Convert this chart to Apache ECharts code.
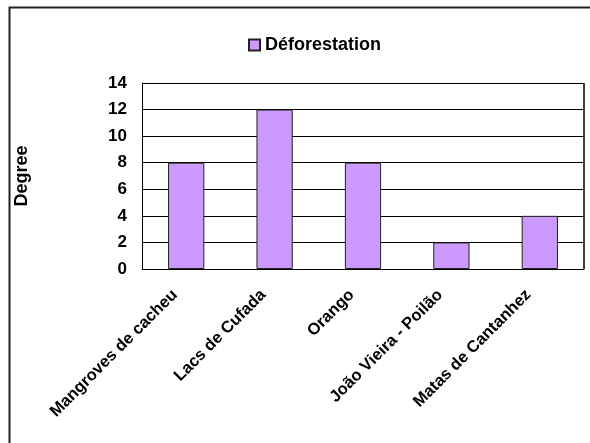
<!DOCTYPE html>
<html><head><meta charset="utf-8">
<script src="https://cdn.jsdelivr.net/npm/echarts@6/dist/echarts.min.js"></script>
<style>html,body{margin:0;padding:0;background:#fff}#c{width:590px;height:443px}</style>
</head><body><div id="c"></div>
<script>
const categories = ["Mangroves de cacheu", "Lacs de Cufada", "Orango", "João Vieira - Poilão", "Matas de Cantanhez"];
const deforestation = [8, 12, 8, 2, 4];
const seriesName = "Déforestation";
const yTitle = "Degree";

const chart = echarts.init(document.getElementById('c'));
const font = 'Liberation Sans, Arial, sans-serif';
chart.setOption({
  animation: false,
  graphic: [{
    type: 'rect', left: 7, top: 5, shape: {width: 600, height: 460},
    style: {fill: 'none', stroke: '#222', lineWidth: 2}, silent: true
  }],
  legend: {
    data: [seriesName], left: 243, top: 31, icon: 'rect', itemWidth: 11, itemHeight: 11, itemGap: 4,
    textStyle: {fontFamily: font, fontWeight: 'bold', fontSize: 18, color: '#000'}
  },
  grid: {left: 142, top: 83, right: 6, bottom: 174, containLabel: false, outerBoundsMode: 'none'},
  xAxis: {
    type: 'category', data: categories,
    axisLine: {lineStyle: {color: '#000', width: 1}},
    axisTick: {show: false},
    axisLabel: {rotate: 45, interval: 0, margin: 12, padding: [0, 16, 0, 0], fontFamily: font, fontWeight: 'bold', fontSize: 16.5, color: '#000'}
  },
  yAxis: {
    type: 'value', min: 0, max: 14, interval: 2,
    name: yTitle, nameLocation: 'middle', nameGap: 111, nameRotate: 90,
    nameTextStyle: {fontFamily: font, fontWeight: 'bold', fontSize: 18, color: '#000'},
    axisLine: {show: true, lineStyle: {color: '#000'}},
    axisTick: {show: false},
    splitLine: {lineStyle: {color: '#000', width: 1}},
    axisLabel: {margin: 15, fontFamily: font, fontWeight: 'bold', fontSize: 17, color: '#000'}
  },
  series: [{
    name: seriesName, type: 'bar', data: deforestation, barWidth: '41%',
    itemStyle: {color: '#CC99FF', borderColor: '#222', borderWidth: 1}
  }]
});
chart.getZr().add(new echarts.graphic.Rect({shape:{x:584,y:83,width:0,height:186},style:{stroke:'#000',lineWidth:1}}));
</script></body></html>
